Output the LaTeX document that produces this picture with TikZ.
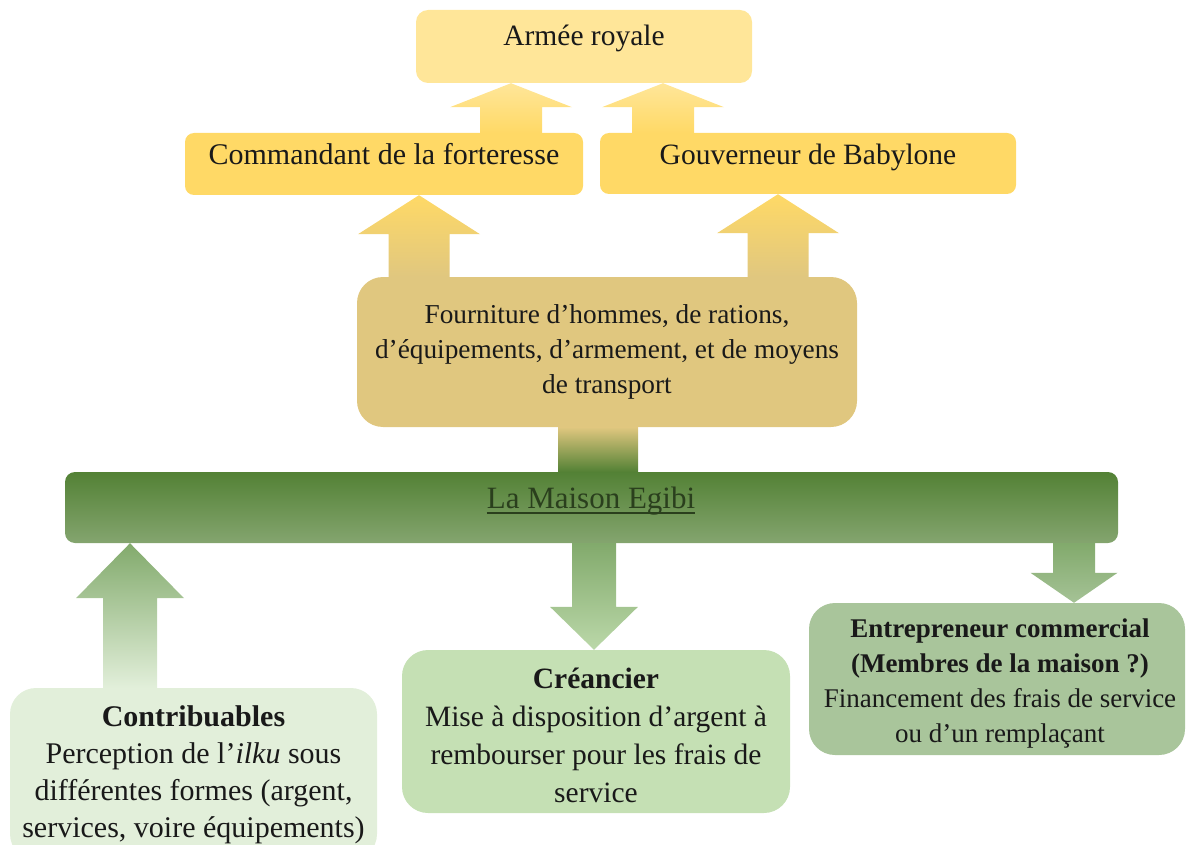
\documentclass[tikz,border=0pt]{standalone}
\usepackage{fontspec}
\setmainfont{Liberation Serif}
\usetikzlibrary{calc}
\definecolor{armeeC}{HTML}{FFE699}
\definecolor{goldC}{HTML}{FFD966}
\definecolor{tanC}{HTML}{E0C77F}
\definecolor{oliveC}{HTML}{A3A84C}
\definecolor{greenD}{HTML}{538135}
\definecolor{greenM}{HTML}{84A56F}
\definecolor{greenA}{HTML}{82AA6C}
\definecolor{egibiC}{HTML}{2A3F1D}
\definecolor{contribC}{HTML}{E2EFDA}
\definecolor{creC}{HTML}{C5E0B4}
\definecolor{entC}{HTML}{A9C59B}
\newcommand\fatarrow[8]{%
  \coordinate (#8-s) at (#1,0 |- #2);
  \coordinate (#8-t) at (#1,0 |- #3);
  \shade[#7] ($(#8-s)+(-#4,0)$) -- ($(#8-t)+(-#4,#6)$) -- ($(#8-t)+(-#5,#6)$) -- (#8-t)
    -- ($(#8-t)+(#5,#6)$) -- ($(#8-t)+(#4,#6)$) -- ($(#8-s)+(#4,0)$) -- cycle;}
\tikzset{
  box/.style={rectangle, draw=none, inner sep=0pt},
  txt/.style={anchor=base, align=center, inner sep=0pt, text=black!90},
}
\newcommand\fs[2]{\fontsize{#1}{#2}\selectfont}
\begin{document}
\begin{tikzpicture}[x=1pt,y=-1pt]
\useasboundingbox (0,0) rectangle (1186,845);
% boxes
\node[box, fill=armeeC, rounded corners=12pt, minimum width=336pt, minimum height=73pt] (armee) at (584,46.5) {};
\node[box, fill=goldC, rounded corners=9pt, minimum width=398pt, minimum height=62pt] (cmd) at (384,164) {};
\node[box, fill=goldC, rounded corners=9pt, minimum width=416pt, minimum height=61pt] (gov) at (808,163.5) {};
\node[box, fill=tanC, rounded corners=26pt, minimum width=500pt, minimum height=150pt] (fourn) at (607,352) {};
\node[box, top color=greenD, bottom color=greenM, rounded corners=10pt, minimum width=1053pt, minimum height=71pt] (maison) at (591.5,507.5) {};
\node[box, fill=contribC, rounded corners=26pt, minimum width=367pt, minimum height=172pt] (contrib) at (193.5,774) {};
\node[box, fill=creC, rounded corners=26pt, minimum width=388pt, minimum height=163pt] (cre) at (596,731.5) {};
\node[box, fill=entC, rounded corners=26pt, minimum width=376pt, minimum height=152pt] (ent) at (997,679) {};
% arrows
\fatarrow{511}{cmd.north}{armee.south}{31}{61}{24}{top color=armeeC, bottom color=goldC}{a1}
\fatarrow{663}{gov.north}{armee.south}{31}{61}{24}{top color=armeeC, bottom color=goldC}{a2}
\fatarrow{419}{fourn.north}{cmd.south}{30.5}{61}{39}{top color=goldC, bottom color=tanC}{a3}
\fatarrow{778}{fourn.north}{gov.south}{30.5}{61}{39}{top color=goldC, bottom color=tanC}{a4}
\shade[top color=tanC, middle color=oliveC, bottom color=greenD]
  ($(598,0 |- fourn.south)+(-40,0)$) rectangle ($(598,0 |- maison.north)+(40,0)$);
\fatarrow{130}{contrib.north}{maison.south}{27}{54}{55}{top color=greenA, bottom color=contribC}{a5}
\fatarrow{594}{maison.south}{cre.north}{22}{44}{-43}{top color=greenA, bottom color=creC!85!greenA}{a6}
\fatarrow{1074}{maison.south}{ent.north}{21}{43.5}{-30}{top color=greenA, bottom color=entC!90!greenA}{a7}
% texts
\node[txt, font=\fs{29.5}{35}] (armee-t) at (584,46) {Armée royale};
\node[txt, font=\fs{30}{35}] (cmd-t) at (384,165) {Commandant de la forteresse};
\node[txt, font=\fs{29.5}{35}] (gov-t) at (808,165) {Gouverneur de Babylone};
\node[txt, font=\fs{27.3}{35}] (fourn-t) at (607,393) {Fourniture d’hommes, de rations,\\d’équipements, d’armement, et de moyens\\de transport};
\node[txt, font=\fs{31}{35}, text=egibiC] (maison-t) at (591,508) {La Maison Egibi};
\draw[egibiC, line width=2.2pt] ($(maison-t.base west)+(0,5)$) -- ($(maison-t.base east)+(0,5)$);
\node[txt, font=\fs{30}{37}] (contrib-t) at (193.5,837) {\textbf{Contribuables}\\Perception de l’\textit{ilku} sous\\différentes formes (argent,\\services, voire équipements)};
\node[txt, font=\fs{29.5}{38}] (cre-t) at (596,802) {\textbf{Créancier}\\Mise à disposition d’argent à\\rembourser pour les frais de\\service};
\node[txt, font=\fs{27}{35}] (ent-t) at (1000,742) {\textbf{Entrepreneur commercial}\\\textbf{(Membres de la maison ?)}\\Financement des frais de service\\ou d’un remplaçant};
\end{tikzpicture}
\end{document}
